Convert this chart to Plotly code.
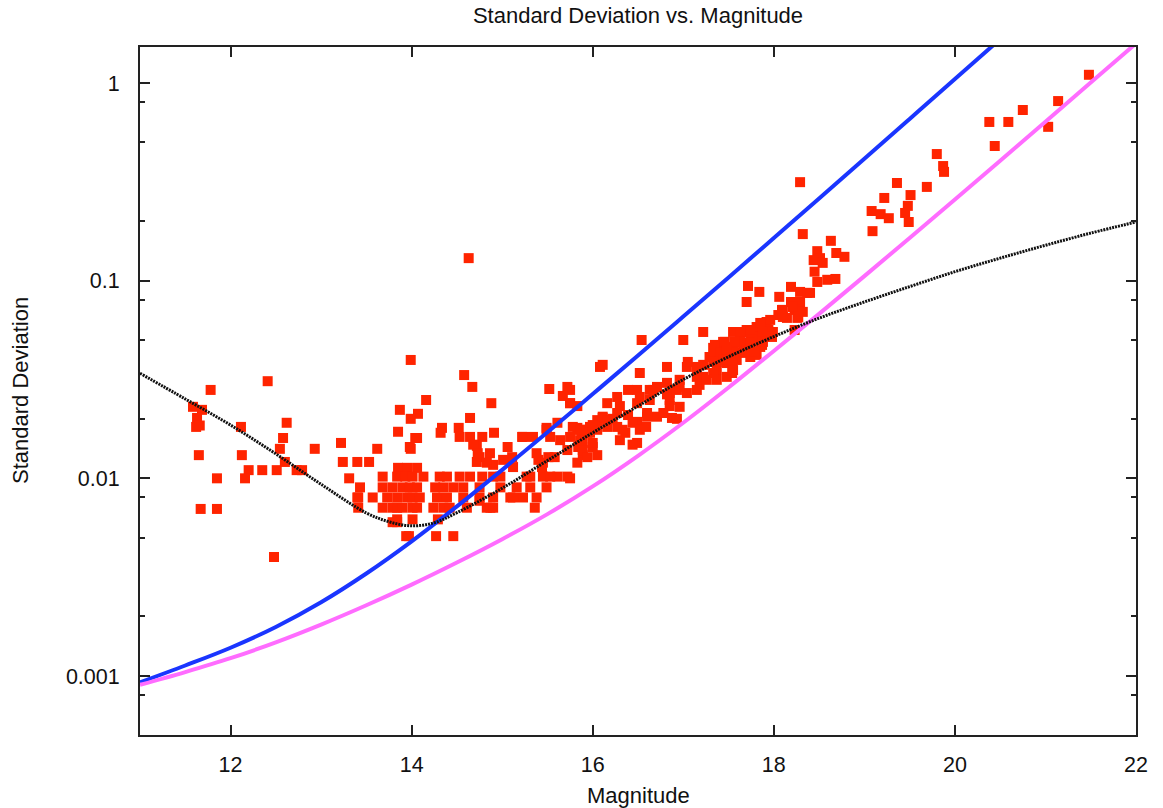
import plotly.graph_objects as go

# ---- scatter data ----
magnitude = [
    11.78, 12.41, 11.585, 11.685, 11.63, 11.62, 11.66, 12.115, 12.62, 12.58, 12.545, 12.93, 13.22,
    13.87, 13.85, 13.62, 11.65, 12.125, 12.60, 12.20, 12.35, 12.51, 12.73, 12.79, 11.85, 12.16,
    13.24, 13.40, 13.53, 13.31, 13.43, 13.41, 13.57, 13.41, 11.67, 11.85, 12.48, 13.84, 13.94,
    # 14-15.9 upper
    13.99, 14.58, 14.67, 14.16, 14.07, 13.99, 14.88, 14.645, 14.06, 13.99, 14.335, 14.32, 14.52,
    14.53, 14.645, 14.78, 14.91, 14.72, 14.75, 14.865, 14.72, 14.90, 13.98, 14.04, 14.63,
    14.68, 14.73, 14.83, 15.06, 15.11, 15.01, 15.12, 15.38, 15.40, 15.45, 15.58, 15.72, 15.84,
    15.89, 15.83, 15.23, 15.34, 15.49, 15.53, 15.83, 15.88, 15.94, 15.52, 15.72, 15.67, 15.75,
    13.85, 13.95, 14.06,
    # row ~0.0102
    13.68, 13.84, 13.93, 14.01, 14.13, 14.31, 14.39, 14.53, 14.645, 14.78, 14.90, 14.98, 15.27,
    15.45, 15.61, 15.72,
    # row ~0.0090
    13.68, 13.79, 13.90, 13.98, 14.06, 14.26, 14.35, 14.46, 14.57, 14.75, 14.98, 15.16, 15.31, 15.49,
    # row ~0.0080
    13.40, 13.73, 13.84, 13.95, 14.01, 14.09, 14.28, 14.39, 14.57, 14.75, 14.90, 15.09, 15.23, 15.38,
    # row ~0.0071
    13.68, 13.79, 13.84, 13.90, 14.01, 14.06, 14.24, 14.35, 14.42, 14.61, 14.83, 14.87, 15.36,
    # low
    13.84, 14.01, 14.29, 13.79, 13.97, 14.27, 14.46,
    # 15-16
    15.22, 15.49, 15.61, 15.64, 15.75, 15.86, 15.97, 16.05, 16.11, 15.89, 16.00, 15.51, 15.44,
    15.53, 15.31, 15.12, 14.90, 14.75,
    # 15.75-17
    15.75, 15.75, 15.75, 15.83, 15.78, 15.86, 15.97, 16.05, 15.86, 16.00, 15.89, 15.94, 16.05,
    16.11, 16.22, 16.16, 16.27, 16.36, 16.30, 16.49, 16.39, 16.49, 16.60, 16.59, 16.71, 16.49,
    16.39, 16.27, 16.16, 16.30, 16.49, 16.63, 16.71, 16.82, 16.93, 16.85, 16.63, 16.85, 16.85,
    16.78, 16.875, 17.04, 17.15, 17.22, 17.18, 16.96, 16.08, 16.11, 16.52, 16.82, 17.05, 17.33,
    17.44, 17.38, 17.52, 17.59, 17.48, 17.37, 17.48, 17.37, 17.54, 17.66, 17.81, 17.74, 17.87,
    17.94, 17.66, 17.76, 17.22, 17.00, 16.54, 17.70, 17.84,
    16.52, 16.60, 16.67, 16.44, 16.33, 16.52, 16.27, 16.16, 16.00, 16.44, 16.96, 16.93, 16.82,
    17.04, 17.15, 16.96, 17.33, 17.37, 17.15, 17.26, 17.41, 17.55, 17.70, 17.85, 17.96, 17.66, 17.81,
    # 17-18
    17.55, 17.70, 17.83, 17.92, 17.35, 17.46, 17.63, 17.77, 17.90, 17.99, 17.29, 17.41, 17.55,
    17.70, 17.85, 17.22, 17.33, 17.48, 17.74,
    # 18-19
    18.32, 18.63, 18.69, 18.78, 18.48, 18.51, 18.44, 18.54, 18.45, 18.59, 18.68, 18.48, 17.715,
    18.06, 18.19, 18.29, 18.37, 18.19, 18.29, 18.23, 18.32, 18.10, 18.05, 18.145, 18.26, 17.96,
    17.85, 17.74, 17.63, 17.88, 17.57, 17.74, 17.88, 17.98, 17.48, 17.68, 17.79, 17.44, 17.54,
    17.55, 18.23, 18.29, 18.40, 18.21, 18.09, 18.27, 18.10,
    # upper right
    21.48, 21.14, 21.03, 20.75, 20.59, 20.38, 20.44, 19.80, 19.87, 19.88, 19.36, 19.69, 19.22,
    19.51, 19.48, 19.08, 19.18, 19.27, 19.45, 19.49, 19.09,
]
std_dev = [
    0.028, 0.031, 0.023, 0.0222, 0.0202, 0.0182, 0.0185, 0.0182, 0.0191, 0.016, 0.0141, 0.0141, 0.0151,
    0.0222, 0.0172, 0.0141, 0.0131, 0.0131, 0.0121, 0.011, 0.011, 0.011, 0.011, 0.011, 0.010, 0.010,
    0.0121, 0.0121, 0.0121, 0.010, 0.009, 0.008, 0.008, 0.0071, 0.007, 0.007, 0.004, 0.006, 0.0051,
    # 14-15.9 upper
    0.0397, 0.0333, 0.029, 0.0249, 0.0212, 0.020, 0.024, 0.0202, 0.016, 0.0141, 0.018, 0.017, 0.018,
    0.0162, 0.0162, 0.0162, 0.017, 0.0146, 0.0128, 0.0134, 0.0121, 0.0117, 0.0144, 0.016, 0.13,
    0.0148, 0.0134, 0.012, 0.0144, 0.0128, 0.0124, 0.0114, 0.0134, 0.0124, 0.012, 0.0128, 0.0139, 0.0144,
    0.0131, 0.012, 0.0162, 0.0162, 0.018, 0.0162, 0.018, 0.0162, 0.017, 0.0283, 0.029, 0.0261, 0.024,
    0.0113, 0.0113, 0.0113,
    # row ~0.0102
    0.0102, 0.0102, 0.0102, 0.0102, 0.0102, 0.0102, 0.0102, 0.0102, 0.0102, 0.0102, 0.0102, 0.0102, 0.0102,
    0.0102, 0.0102, 0.0102,
    # row ~0.0090
    0.009, 0.009, 0.009, 0.009, 0.009, 0.009, 0.009, 0.009, 0.009, 0.009, 0.009, 0.009, 0.009, 0.009,
    # row ~0.0080
    0.008, 0.008, 0.008, 0.008, 0.008, 0.008, 0.008, 0.008, 0.008, 0.008, 0.008, 0.008, 0.008, 0.008,
    # row ~0.0071
    0.0071, 0.0071, 0.0071, 0.0071, 0.0071, 0.0071, 0.0071, 0.0071, 0.0071, 0.0071, 0.0071, 0.0071, 0.0071,
    # low
    0.0062, 0.0062, 0.0062, 0.006, 0.0051, 0.0051, 0.0051,
    # 15-16
    0.0162, 0.0176, 0.0191, 0.0156, 0.0162, 0.0176, 0.0182, 0.0197, 0.0202, 0.0151, 0.0144, 0.0128, 0.0114,
    0.0102, 0.0102, 0.008, 0.0071, 0.0077,
    # 15.75-17
    0.010, 0.028, 0.024, 0.0232, 0.0182, 0.0176, 0.017, 0.0176, 0.0156, 0.0151, 0.0139, 0.0128, 0.0131,
    0.0205, 0.020, 0.0182, 0.0182, 0.017, 0.0156, 0.0151, 0.0209, 0.0193, 0.0205, 0.0182, 0.0205, 0.028,
    0.028, 0.0258, 0.024, 0.0232, 0.024, 0.0249, 0.029, 0.0304, 0.028, 0.027, 0.028, 0.0249, 0.0232,
    0.0214, 0.0202, 0.0366, 0.0366, 0.0326, 0.0297, 0.0315, 0.0366, 0.0375, 0.0341, 0.0366, 0.0388, 0.0457,
    0.049, 0.0411, 0.0431, 0.0397, 0.0383, 0.0353, 0.0326, 0.0315, 0.0341, 0.055, 0.0583, 0.0501, 0.0473,
    0.0563, 0.0446, 0.0436, 0.055, 0.0501, 0.0501, 0.078, 0.0877,
    0.0258, 0.0214, 0.028, 0.0191, 0.0176, 0.0176, 0.0214, 0.0197, 0.0186, 0.0148, 0.023, 0.020, 0.0266,
    0.027, 0.028, 0.029, 0.0341, 0.0388, 0.0326, 0.0315, 0.0446, 0.0462, 0.0484, 0.0501, 0.0531, 0.0431, 0.0421,
    # 17-18
    0.055, 0.0563, 0.0583, 0.0618, 0.0473, 0.049, 0.0501, 0.0519, 0.0519, 0.055, 0.0411, 0.0431, 0.0431,
    0.0446, 0.0462, 0.0375, 0.0388, 0.0388, 0.0411,
    # 18-19
    0.172, 0.159, 0.138, 0.132, 0.141, 0.130, 0.127, 0.123, 0.111, 0.101, 0.102, 0.0985, 0.094,
    0.0828, 0.093, 0.0877, 0.0867, 0.078, 0.078, 0.0711, 0.0695, 0.0711, 0.067, 0.0648, 0.0648, 0.0633,
    0.0611, 0.0563, 0.055, 0.055, 0.049, 0.0484, 0.049, 0.0519, 0.0446, 0.0436, 0.0436, 0.0397, 0.0383,
    0.0353, 0.0563, 0.315, 0.0867, 0.0736, 0.0711, 0.0655, 0.0655,
    # upper right
    1.10, 0.81, 0.60, 0.73, 0.635, 0.635, 0.48, 0.437, 0.38, 0.355, 0.312, 0.298, 0.262,
    0.271, 0.239, 0.225, 0.217, 0.207, 0.220, 0.198, 0.178,
]

# ---- model curves ----
blue_mag = [11.0, 11.5, 12.0, 12.5, 13.0, 13.5, 14.0, 14.5, 15.0, 15.5, 16.0, 16.5, 17.0, 17.5,
            18.0, 18.5, 19.0, 19.5, 20.0, 20.5]
blue_sd = [0.000929, 0.00113, 0.00139, 0.00177, 0.00236, 0.00330, 0.00480, 0.00721, 0.01104, 0.0171,
           0.0267, 0.0418, 0.0658, 0.1038, 0.1644, 0.2606, 0.414, 0.658, 1.047, 1.667]

pink_mag = [11.0, 11.5, 12.0, 12.5, 13.0, 13.5, 14.0, 14.5, 15.0, 15.5, 16.0, 16.5, 17.0, 17.5,
            18.0, 18.5, 19.0, 19.5, 20.0, 20.5, 21.0, 21.5, 22.0]
pink_sd = [0.000902, 0.001047, 0.00123, 0.00148, 0.00182, 0.00228, 0.00290, 0.00375, 0.00492, 0.00659,
           0.0091, 0.0130, 0.0191, 0.0288, 0.0441, 0.0679, 0.1054, 0.1644, 0.2576, 0.4046, 0.637,
           1.005, 1.585]

fit_mag = [11.0, 11.5, 12.0, 12.5, 13.0, 13.5, 13.75, 14.0, 14.25, 14.5, 15.0, 15.5, 16.0, 16.5,
           17.0, 17.5, 18.0, 18.5, 19.0, 19.5, 20.0, 20.5, 21.0, 21.5, 22.0]
fit_sd = [0.034, 0.0252, 0.0186, 0.0133, 0.00933, 0.00668, 0.00603, 0.00575, 0.00596, 0.0067,
          0.00891, 0.0123, 0.0170, 0.0232, 0.0316, 0.0412, 0.0521, 0.0646, 0.078, 0.0933, 0.111,
          0.130, 0.151, 0.174, 0.198]

y_major = [0.001, 0.01, 0.1, 1]
y_major_text = ["0.001", "0.01", "0.1", "1"]
y_minor = [0.0008, 0.002, 0.005, 0.008, 0.02, 0.05, 0.08, 0.2, 0.5, 0.8]
x_ticks = [12, 14, 16, 18, 20, 22]

FONT = "Liberation Sans, Arial, Helvetica, sans-serif"

fig = go.Figure()
fig.add_trace(go.Scatter(x=magnitude, y=std_dev, mode="markers",
                         marker=dict(symbol="square", size=10, color="#ff2400", line=dict(width=0)),
                         showlegend=False))
fig.add_trace(go.Scatter(x=blue_mag, y=blue_sd, mode="lines",
                         line=dict(color="#1a35ff", width=4, shape="spline"), showlegend=False))
fig.add_trace(go.Scatter(x=pink_mag, y=pink_sd, mode="lines",
                         line=dict(color="#ff6cff", width=4, shape="spline"), showlegend=False))
fig.add_trace(go.Scatter(x=fit_mag, y=fit_sd, mode="lines",
                         line=dict(color="#111111", width=3, shape="spline", dash="2px,1px"),
                         showlegend=False))

axis_common = dict(showgrid=False, zeroline=False, ticks="inside", ticklen=10, tickwidth=1.5,
                   tickcolor="#222", showline=True, linecolor="#222", linewidth=2, mirror="ticks",
                   tickfont=dict(family=FONT, size=21.5, color="#111"))

fig.update_xaxes(range=[11, 22], tickmode="array", tickvals=x_ticks, ticklabelstandoff=9,
                 **axis_common)
fig.update_yaxes(type="log", range=[-3.2985, 0.182], tickmode="array", tickvals=y_major,
                 ticktext=y_major_text, ticklabelstandoff=14,
                 minor=dict(tickmode="array", tickvals=y_minor, ticks="inside", ticklen=5,
                            tickwidth=1.5, tickcolor="#222", showgrid=False),
                 **axis_common)

fig.update_layout(
    width=1163, height=808,
    margin=dict(l=140, r=27, t=47, b=73),
    paper_bgcolor="white", plot_bgcolor="white",
    font=dict(family=FONT, color="#111"),
    title=dict(text="Standard Deviation vs. Magnitude", x=0.5, xref="paper", xanchor="center",
               y=1 - 15 / 808, yref="container", yanchor="middle",
               font=dict(family=FONT, size=22, color="#111")),
    annotations=[
        dict(text="Magnitude", xref="paper", yref="paper", x=0.5, y=-60 / 688,
             xanchor="center", yanchor="middle", showarrow=False,
             font=dict(family=FONT, size=22, color="#111")),
        dict(text="Standard Deviation", xref="paper", yref="paper", x=-120 / 996, y=0.5,
             xanchor="center", yanchor="middle", textangle=-90, showarrow=False,
             font=dict(family=FONT, size=22, color="#111")),
    ],
)

fig.write_html("out.html")
